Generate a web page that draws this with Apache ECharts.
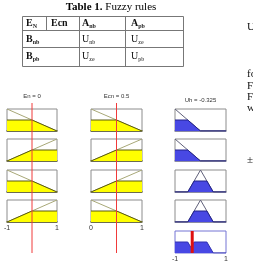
<!DOCTYPE html>
<html>
<head>
<meta charset="utf-8">
<script src="https://cdn.jsdelivr.net/npm/echarts@6/dist/echarts.min.js"></script>
<style>
  html, body { margin: 0; padding: 0; background: #fff; }
  #chart { width: 253px; height: 263px; }
</style>
</head>
<body>
<div id="chart"></div>
<script>
// rule viewer inputs / output
const enValue = 0;
const ecnValue = 0.5;
const uhValue = -0.325;
const columnTitles = ['En = 0', 'Ecn = 0.5', 'Uh = -0.325'];
const enTicks = [-1, 1];
const ecnTicks = [0, 1];
const uTicks = [-1, 1];

// membership functions [x, mu] and the parts cut at the firing level
const enNb = [[-1, 1], [1, 0]];
const enPb = [[-1, 0], [1, 1]];
const enNbCut = [[-1, 0.5], [0, 0.5], [1, 0]];
const enPbCut = [[-1, 0], [0, 0.5], [1, 0.5]];
const ecnNb = [[0, 1], [1, 0]];
const ecnPb = [[0, 0], [1, 1]];
const ecnNbCut = [[0, 0.5], [0.5, 0.5], [1, 0]];
const ecnPbCut = [[0, 0], [0.5, 0.5], [1, 0.5]];
const uNb = [[-1, 1], [0, 0], [1, 0]];
const uZe = [[-1, 0], [-0.5, 0], [0, 1], [0.5, 0], [1, 0]];
const uNbCut = [[-1, 0.5], [-0.5, 0.5], [0, 0], [1, 0]];
const uZeCut = [[-1, 0], [-0.5, 0], [-0.25, 0.5], [0.25, 0.5], [0.5, 0], [1, 0]];
const uAggregate = [[-1, 0.5], [-0.5, 0.5], [-0.375, 0.25], [-0.25, 0.5], [0.25, 0.5], [0.5, 0], [1, 0]];

// one entry per rule row
const enRows = [enNb, enPb, enNb, enPb];
const enRowCuts = [enNbCut, enPbCut, enNbCut, enPbCut];
const ecnRows = [ecnNb, ecnPb, ecnPb, ecnNb];
const ecnRowCuts = [ecnNbCut, ecnPbCut, ecnPbCut, ecnNbCut];
const uRows = [uNb, uNb, uZe, uZe];
const uRowCuts = [uNbCut, uNbCut, uZeCut, uZeCut];

// table text: [main, subscript]
const tableTitle = ['Table 1.', ' Fuzzy rules'];
const tableCells = [
  [['E', 'N'], ['Ecn', ''], ['A', 'nb'], ['A', 'pb']],
  [['B', 'nb'], null, ['U', 'nb'], ['U', 'ze']],
  [['B', 'pb'], null, ['U', 'ze'], ['U', 'pb']]
];
const sideText = ['U', 'fo', 'F', 'F', 'w', '±'];

// layout
const colLeft = [7, 91, 175];
const colWidth = [50, 51, 51];
const rowTop = [109, 139, 170, 200];
const boxH = 22;
const aggTop = 231;

const chart = echarts.init(document.getElementById('chart'));
const option = { animation: false, grid: [], xAxis: [], yAxis: [], series: [], graphic: [] };

function addBox(o) {
  const gi = option.grid.length;
  option.grid.push({
    left: o.left, top: o.top, width: o.width, height: o.height,
    show: !!o.frame, borderColor: o.border || '#8c8c8c', borderWidth: 1,
    backgroundColor: 'transparent'
  });
  option.xAxis.push({
    type: 'value', gridIndex: gi, min: o.ticks[0], max: o.ticks[1],
    interval: o.ticks[1] - o.ticks[0],
    axisLine: { show: !!o.baseColor, onZero: false, lineStyle: { color: o.baseColor, width: 1.5 } },
    axisTick: { show: false }, splitLine: { show: false },
    axisLabel: {
      show: !!o.labels, fontSize: 7, color: '#333', margin: 3,
      fontFamily: 'Liberation Sans', showMinLabel: true, showMaxLabel: true
    }
  });
  option.yAxis.push({ type: 'value', gridIndex: gi, min: 0, max: 1, show: false });
  return gi;
}

function addShape(gi, mf, cut, fill, edge, mfColor) {
  option.series.push({
    type: 'line', xAxisIndex: gi, yAxisIndex: gi, data: mf, symbol: 'none', silent: true,
    lineStyle: { color: mfColor, width: 1 }, z: 2
  });
  option.series.push({
    type: 'line', xAxisIndex: gi, yAxisIndex: gi, data: cut, symbol: 'none', silent: true,
    lineStyle: { color: edge, width: 1 }, areaStyle: { color: fill, opacity: 1 }, z: 3
  });
}

function addMarker(gi, value, color, width) {
  option.series.push({
    type: 'line', xAxisIndex: gi, yAxisIndex: gi, data: [[value, 0], [value, 1]],
    symbol: 'none', silent: true, lineStyle: { color: color, width: width }, z: 6
  });
}

const inputCols = [
  { ticks: enTicks, rows: enRows, cuts: enRowCuts, value: enValue },
  { ticks: ecnTicks, rows: ecnRows, cuts: ecnRowCuts, value: ecnValue }
];

inputCols.forEach((col, c) => {
  col.rows.forEach((mf, r) => {
    const gi = addBox({
      left: colLeft[c], top: rowTop[r], width: colWidth[c], height: boxH,
      ticks: col.ticks, frame: true, baseColor: '#50502a', labels: r === 3
    });
    addShape(gi, mf, col.cuts[r], '#ffff00', '#5a5a10', '#a8a878');
  });
  // thin red input line across the whole column
  const gi = addBox({ left: colLeft[c], top: 103, width: colWidth[c], height: 150, ticks: col.ticks });
  addMarker(gi, col.value, '#f03a3a', 1);
});

uRows.forEach((mf, r) => {
  const gi = addBox({
    left: colLeft[2], top: rowTop[r], width: colWidth[2], height: boxH,
    ticks: uTicks, frame: true, baseColor: '#7a7a98'
  });
  addShape(gi, mf, uRowCuts[r], '#4848e4', '#22228a', '#60607a');
});

const aggGi = addBox({
  left: colLeft[2], top: aggTop, width: colWidth[2], height: boxH,
  ticks: uTicks, frame: true, border: '#7474d4', labels: true
});
option.series.push({
  type: 'line', xAxisIndex: aggGi, yAxisIndex: aggGi, data: uAggregate, symbol: 'none', silent: true,
  lineStyle: { color: '#3030b0', width: 1 }, areaStyle: { color: '#4848e4', opacity: 1 }, z: 3
});
addMarker(aggGi, uhValue, '#dd1010', 3);

// column titles
const titleY = [96, 96, 100];
columnTitles.forEach((t, c) => {
  option.graphic.push({
    type: 'text', x: colLeft[c] + colWidth[c] / 2, y: titleY[c],
    style: {
      text: t, fill: '#333', fontSize: 6, fontFamily: 'Liberation Sans',
      textAlign: 'center', textVerticalAlign: 'middle'
    }
  });
});

// table
const serif = 'Liberation Serif';
option.graphic.push({
  type: 'text', x: 111, y: 7,
  style: {
    text: '{b|' + tableTitle[0] + '}{n|' + tableTitle[1] + '}',
    textAlign: 'center', textVerticalAlign: 'middle', fill: '#000',
    rich: {
      b: { fontSize: 11, fontWeight: 'bold', fontFamily: serif, fill: '#000' },
      n: { fontSize: 11, fontFamily: serif, fill: '#000' }
    }
  }
});
const lineStyle = { stroke: '#777', lineWidth: 1 };
option.graphic.push({ type: 'rect', shape: { x: 22.5, y: 16.5, width: 161, height: 50 }, style: { fill: 'none', stroke: '#777', lineWidth: 1 } });
[[22.5, 30.5, 183.5, 30.5], [22.5, 47.5, 183.5, 47.5], [46.5, 16.5, 46.5, 30.5],
 [79.5, 16.5, 79.5, 66.5], [125.5, 16.5, 125.5, 66.5]].forEach(l => {
  option.graphic.push({ type: 'line', shape: { x1: l[0], y1: l[1], x2: l[2], y2: l[3] }, style: lineStyle });
});
const cellX = [26, 51, 82, 131];
const cellY = [23.5, 39, 56.5];
tableCells.forEach((row, r) => {
  row.forEach((cell, c) => {
    if (!cell) return;
    const w = (r === 0 || c === 0) ? 'bold' : 'normal';
    option.graphic.push({
      type: 'text', x: cellX[c], y: cellY[r],
      style: {
        text: '{m|' + cell[0] + '}' + (cell[1] ? '{s|' + cell[1] + '}' : ''),
        textVerticalAlign: 'middle',
        rich: {
          m: { fontSize: 10, fontWeight: w, fontFamily: serif, fill: '#111', lineHeight: 12 },
          s: { fontSize: 6, fontWeight: w, fontFamily: serif, fill: '#222', lineHeight: 12, verticalAlign: 'bottom' }
        }
      }
    });
  });
});

// text of the page cut at the right edge
const sideY = [27, 74, 86, 97, 108, 160];
sideText.forEach((t, i) => {
  option.graphic.push({
    type: 'text', x: 247, y: sideY[i],
    style: { text: t, fill: '#111', fontSize: 11, fontFamily: serif, textVerticalAlign: 'middle' }
  });
});

chart.setOption(option);
</script>
</body>
</html>
